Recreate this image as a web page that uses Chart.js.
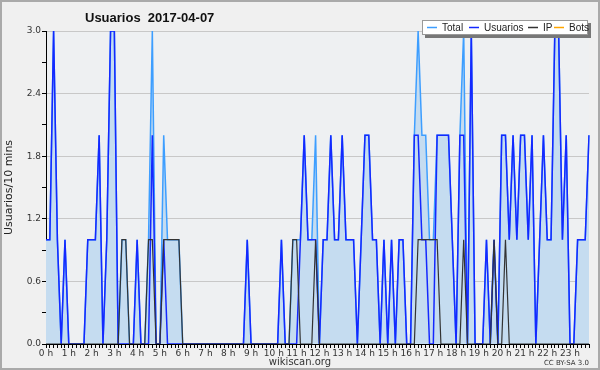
<!DOCTYPE html>
<html>
<head>
<meta charset="utf-8">
<script src="https://cdn.jsdelivr.net/npm/chart.js@4.4.0/dist/chart.umd.min.js"></script>
<style>
  html, body { margin: 0; padding: 0; background: #f0f0f0; }
  #wrap { width: 600px; height: 370px; }
</style>
</head>
<body>
<div id="wrap"><canvas id="usuariosChart" width="600" height="370"></canvas></div>
<script>
// Datos (un punto cada 10 minutos, 2017-04-07)
const horas = ['0 h', '1 h', '2 h', '3 h', '4 h', '5 h', '6 h', '7 h', '8 h', '9 h', '10 h', '11 h',
               '12 h', '13 h', '14 h', '15 h', '16 h', '17 h', '18 h', '19 h', '20 h', '21 h', '22 h', '23 h'];
const minutos = ['00', '10', '20', '30', '40', '50'];
const yTicks = [0, 0.6, 1.2, 1.8, 2.4, 3.0];

const usuarios = [
    1, 1, 3, 1, 0, 1, 0, 0, 0, 0, 0, 1,   // 0-2 h
    1, 1, 2, 0, 1, 3, 3, 0, 0, 0, 0, 0,   // 2-4 h
    1, 0, 0, 0, 2, 0, 0, 1, 0, 0, 0, 0,   // 4-6 h
    0, 0, 0, 0, 0, 0, 0, 0, 0, 0, 0, 0,   // 6-8 h
    0, 0, 0, 0, 0, 1, 0, 0, 0, 0, 0, 0,   // 8-10 h
    0, 0, 1, 0, 0, 0, 0, 1, 2, 1, 1, 1,   // 10-12 h
    0, 1, 1, 2, 1, 1, 2, 1, 1, 1, 0, 1,   // 12-14 h
    2, 2, 1, 1, 0, 1, 0, 1, 0, 1, 1, 0,   // 14-16 h
    0, 2, 2, 1, 1, 0, 0, 2, 2, 2, 2, 1,   // 16-18 h
    0, 2, 2, 0, 3, 0, 0, 0, 1, 0, 1, 0,   // 18-20 h
    2, 2, 1, 2, 1, 2, 2, 1, 2, 0, 1, 2,   // 20-22 h
    1, 1, 3, 3, 1, 2, 0, 0, 1, 1, 1, 2    // 22-24 h
];
const ip = [
    0, 0, 0, 0, 0, 0, 0, 0, 0, 0, 0, 0,
    0, 0, 0, 0, 0, 0, 0, 0, 1, 1, 0, 0,
    0, 0, 0, 1, 1, 0, 0, 1, 1, 1, 1, 1,
    0, 0, 0, 0, 0, 0, 0, 0, 0, 0, 0, 0,
    0, 0, 0, 0, 0, 0, 0, 0, 0, 0, 0, 0,
    0, 0, 0, 0, 0, 1, 1, 0, 0, 0, 0, 1,
    0, 0, 0, 0, 0, 0, 0, 0, 0, 0, 0, 0,
    0, 0, 0, 0, 0, 0, 0, 0, 0, 0, 0, 0,
    0, 0, 1, 1, 1, 1, 1, 1, 0, 0, 0, 0,
    0, 0, 1, 0, 0, 0, 0, 0, 0, 0, 1, 0,
    0, 1, 0, 0, 0, 0, 0, 0, 0, 0, 0, 0,
    0, 0, 0, 0, 0, 0, 0, 0, 0, 0, 0, 0
];
const total = [
    1, 1, 3, 1, 0, 1, 0, 0, 0, 0, 0, 1,
    1, 1, 2, 0, 1, 3, 3, 0, 1, 1, 0, 0,
    1, 0, 0, 1, 3, 0, 0, 2, 1, 1, 1, 1,
    0, 0, 0, 0, 0, 0, 0, 0, 0, 0, 0, 0,
    0, 0, 0, 0, 0, 1, 0, 0, 0, 0, 0, 0,
    0, 0, 1, 0, 0, 1, 1, 1, 2, 1, 1, 2,
    0, 1, 1, 2, 1, 1, 2, 1, 1, 1, 0, 1,
    2, 2, 1, 1, 0, 1, 0, 1, 0, 1, 1, 0,
    0, 2, 3, 2, 2, 1, 1, 2, 2, 2, 2, 1,
    0, 2, 3, 0, 3, 0, 0, 0, 1, 0, 1, 0,
    2, 2, 1, 2, 1, 2, 2, 1, 2, 0, 1, 2,
    1, 1, 3, 3, 1, 2, 0, 0, 1, 1, 1, 2
];
const bots = [
    0, 0, 0, 0, 0, 0, 0, 0, 0, 0, 0, 0,
    0, 0, 0, 0, 0, 0, 0, 0, 0, 0, 0, 0,
    0, 0, 0, 0, 0, 0, 0, 0, 0, 0, 0, 0,
    0, 0, 0, 0, 0, 0, 0, 0, 0, 0, 0, 0,
    0, 0, 0, 0, 0, 0, 0, 0, 0, 0, 0, 0,
    0, 0, 0, 0, 0, 0, 0, 0, 0, 0, 0, 0,
    0, 0, 0, 0, 0, 0, 0, 0, 0, 0, 0, 0,
    0, 0, 0, 0, 0, 0, 0, 0, 0, 0, 0, 0,
    0, 0, 0, 0, 0, 0, 0, 0, 0, 0, 0, 0,
    0, 0, 0, 0, 0, 0, 0, 0, 0, 0, 0, 0,
    0, 0, 0, 0, 0, 0, 0, 0, 0, 0, 0, 0,
    0, 0, 0, 0, 0, 0, 0, 0, 0, 0, 0, 0
];

// etiquetas de categoria: "0 h 00", "0 h 10", ...
const etiquetas = [];
horas.forEach(function(h) {
    minutos.forEach(function(m) { etiquetas.push(h + ' ' + m); });
});

const colores = {
    total: '#3d9eff',
    usuarios: '#1428ff',
    ip: '#333333',
    bots: '#ffa500'
};

// fondo, titulo, leyenda y pie
const decorado = {
    id: 'decorado',
    beforeDraw(chart) {
        const ctx = chart.ctx;
        const a = chart.chartArea;
        ctx.save();
        ctx.fillStyle = '#f0f0f0';
        ctx.fillRect(0, 0, chart.width, chart.height);
        ctx.fillStyle = '#eef0f2';
        ctx.fillRect(a.left, a.top, a.right - a.left, a.bottom - a.top);
        ctx.restore();
    },
    afterDraw(chart) {
        const ctx = chart.ctx;
        ctx.save();
        // titulo
        ctx.fillStyle = '#111';
        ctx.font = 'bold 13px "Liberation Sans"';
        ctx.textBaseline = 'alphabetic';
        ctx.textAlign = 'left';
        ctx.fillText('Usuarios  2017-04-07', 85, 22);

        // leyenda
        ctx.fillStyle = '#777';
        ctx.fillRect(425, 23, 166, 15);
        ctx.fillStyle = '#ffffff';
        ctx.fillRect(422, 20, 166, 15);
        ctx.strokeStyle = '#999';
        ctx.lineWidth = 1;
        ctx.strokeRect(422.5, 20.5, 165, 14);
        const items = [
            { t: 'Total', c: colores.total, x: 427 },
            { t: 'Usuarios', c: colores.usuarios, x: 469 },
            { t: 'IP', c: colores.ip, x: 528 },
            { t: 'Bots', c: colores.bots, x: 554 }
        ];
        ctx.font = '10px "Liberation Sans"';
        ctx.textBaseline = 'middle';
        items.forEach(function(it) {
            ctx.strokeStyle = it.c;
            ctx.lineWidth = 1.5;
            ctx.beginPath();
            ctx.moveTo(it.x, 27.5);
            ctx.lineTo(it.x + 10, 27.5);
            ctx.stroke();
            ctx.fillStyle = '#222';
            ctx.fillText(it.t, it.x + 15, 28);
        });

        // pie
        ctx.fillStyle = '#333';
        ctx.textBaseline = 'alphabetic';
        ctx.textAlign = 'center';
        ctx.font = '10px "DejaVu Sans"';
        ctx.fillText('wikiscan.org', 300, 365);
        ctx.textAlign = 'right';
        ctx.font = '7px "DejaVu Sans"';
        ctx.fillText('CC BY-SA 3.0', 589, 365);

        // marco
        ctx.strokeStyle = '#aaaaaa';
        ctx.lineWidth = 2;
        ctx.strokeRect(1, 1, 598, 368);
        ctx.restore();
    }
};

const ctxUsuarios = document.getElementById('usuariosChart').getContext('2d');
const usuariosChart = new Chart(ctxUsuarios, {
    type: 'line',
    data: {
        labels: etiquetas,
        datasets: [{
            label: 'Bots',
            data: bots,
            borderColor: colores.bots,
            borderWidth: 1.5,
            pointRadius: 0,
            fill: false,
            order: 4
        }, {
            label: 'Total',
            data: total,
            borderColor: colores.total,
            backgroundColor: '#c5dcf0',
            borderWidth: 1.5,
            pointRadius: 0,
            fill: 'origin',
            order: 3
        }, {
            label: 'Usuarios',
            data: usuarios,
            borderColor: colores.usuarios,
            borderWidth: 1.5,
            pointRadius: 0,
            fill: false,
            order: 2
        }, {
            label: 'IP',
            data: ip,
            borderColor: colores.ip,
            borderWidth: 1.2,
            pointRadius: 0,
            fill: false,
            order: 1
        }]
    },
    options: {
        responsive: false,
        animation: false,
        devicePixelRatio: 1,
        elements: { line: { tension: 0 } },
        layout: { padding: { left: 0, right: 11, top: 31, bottom: 0 } },
        plugins: {
            legend: { display: false },
            title: { display: false },
            tooltip: { enabled: false }
        },
        scales: {
            x: {
                type: 'category',
                offset: false,
                z: 1,
                border: { color: '#000', width: 1 },
                grid: { drawOnChartArea: false, tickLength: 4, tickColor: '#000' },
                ticks: {
                    autoSkip: false,
                    maxRotation: 0,
                    padding: 0,
                    color: '#333',
                    font: { family: 'DejaVu Sans', size: 9 },
                    callback: function(v, i) { return i % 6 === 0 ? horas[i / 6] : ''; }
                },
                afterFit: function(s) { s.height = 26; }
            },
            y: {
                min: yTicks[0],
                max: yTicks[yTicks.length - 1],
                border: { color: '#000', width: 1 },
                grid: {
                    color: function(c) {
                        const v = Math.round(c.tick.value * 10) / 10;
                        return yTicks.indexOf(v) >= 0 ? '#c8c8c8' : 'rgba(0,0,0,0)';
                    },
                    tickColor: '#000',
                    tickLength: 4
                },
                ticks: {
                    stepSize: 0.3,
                    padding: 1,
                    color: '#333',
                    font: { family: 'DejaVu Sans', size: 9 },
                    callback: function(v) {
                        const r = Math.round(v * 10) / 10;
                        return yTicks.indexOf(r) >= 0 ? r.toFixed(1) : '';
                    }
                },
                title: {
                    display: true,
                    text: 'Usuarios/10 mins',
                    color: '#222',
                    font: { family: 'DejaVu Sans', size: 11 },
                    padding: { top: 3, bottom: 0 }
                },
                afterFit: function(s) { s.width = 46; }
            }
        }
    },
    plugins: [decorado]
});
</script>
</body>
</html>
